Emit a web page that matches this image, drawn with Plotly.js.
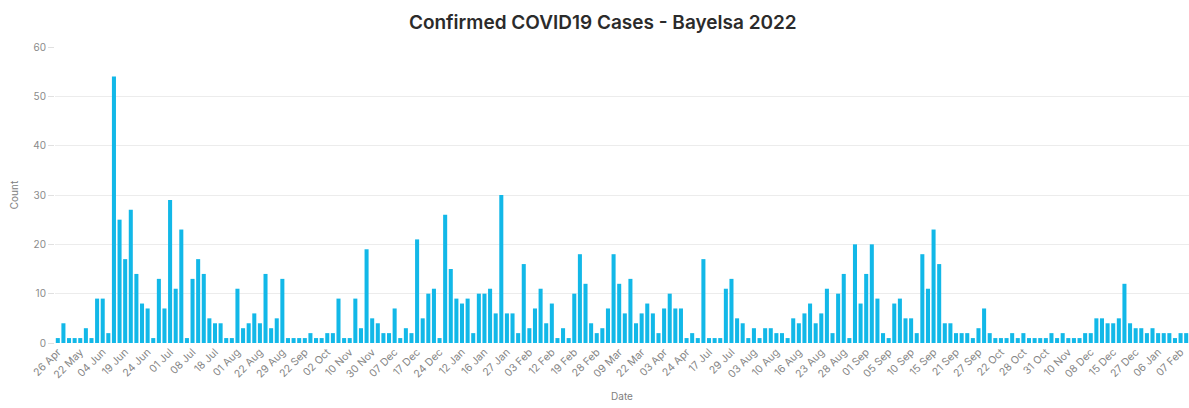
<!DOCTYPE html>
<html>
<head>
<meta charset="utf-8">
<script src="https://cdn.plot.ly/plotly-3.0.1.min.js"></script>
<style>html,body{margin:0;padding:0;background:#fff;}#chart{width:1189px;height:408px;}</style>
</head>
<body>
<div id="chart"></div>
<script>
// Daily confirmed case counts (one bar per reporting day, in order)
const counts = [
  1,4,1,1,1,3,1,9,9,2,
  54,25,17,27,14,8,7,1,13,7,
  29,11,23,1,13,17,14,5,4,4,
  1,1,11,3,4,6,4,14,3,5,
  13,1,1,1,1,2,1,1,2,2,
  9,1,1,9,3,19,5,4,2,2,
  7,1,3,2,21,5,10,11,1,26,
  15,9,8,9,2,10,10,11,6,30,
  6,6,2,16,3,7,11,4,8,1,
  3,1,10,18,12,4,2,3,7,18,
  12,6,13,4,6,8,6,2,7,10,
  7,7,1,2,1,17,1,1,1,11,
  13,5,4,1,3,1,3,3,2,2,
  1,5,4,6,8,4,6,11,2,10,
  14,1,20,8,14,20,9,2,1,8,
  9,5,5,2,18,11,23,16,4,4,
  2,2,2,1,3,7,2,1,1,1,
  2,1,2,1,1,1,1,2,1,2,
  1,1,1,2,2,5,5,4,4,5,
  12,4,3,3,2,3,2,2,2,1,
  2,2
];
// Date labels shown on the axis (every 4th bar)
const tickLabels = [
  "26 Apr","22 May","04 Jun","19 Jun","24 Jun","01 Jul","08 Jul","18 Jul","01 Aug","22 Aug",
  "29 Aug","22 Sep","02 Oct","10 Nov","30 Nov","07 Dec","17 Dec","24 Dec","12 Jan","16 Jan",
  "27 Jan","03 Feb","12 Feb","19 Feb","28 Feb","09 Mar","22 Mar","03 Apr","24 Apr","17 Jul",
  "29 Jul","03 Aug","10 Aug","16 Aug","23 Aug","28 Aug","01 Sep","05 Sep","10 Sep","15 Sep",
  "21 Sep","27 Sep","22 Oct","28 Oct","31 Oct","10 Nov","08 Dec","15 Dec","27 Dec","06 Jan",
  "07 Feb"
];
const labelEvery = 4;

const xs = counts.map((_, i) => i);
const tickVals = tickLabels.map((_, i) => i * labelEvery);

const trace = {
  type: 'bar',
  x: xs,
  y: counts,
  marker: {color: '#12b8e8'},
  hoverinfo: 'y'
};

const layout = {
  width: 1189,
  height: 408,
  margin: {l: 55, r: 0, t: 47, b: 65},
  paper_bgcolor: '#ffffff',
  plot_bgcolor: '#ffffff',
  bargap: 0.28,
  showlegend: false,
  font: {family: 'Inter, "Open Sans", sans-serif', color: '#808080'},
  title: {
    text: 'Confirmed COVID19 Cases - Bayelsa 2022',
    x: 0.507, xanchor: 'center',
    y: 0.945, yanchor: 'middle',
    font: {family: 'Inter, "Noto Sans", sans-serif', size: 19, color: '#2b2b2b', weight: 600}
  },
  xaxis: {
    type: 'linear',
    range: [-0.5, counts.length - 0.5],
    tickmode: 'array',
    tickvals: tickVals,
    ticktext: tickLabels,
    tickangle: -45,
    tickfont: {size: 10.5, color: '#858585'},
    showgrid: false,
    zeroline: false,
    showline: false,
    ticks: '',
    title: {text: 'Date', font: {size: 10, color: '#808080'}, standoff: 12}
  },
  yaxis: {
    range: [0, 60],
    tickvals: [0, 10, 20, 30, 40, 50, 60],
    tickfont: {size: 10, color: '#8a8a8a'},
    gridcolor: '#ececec',
    gridwidth: 1,
    zeroline: false,
    showline: false,
    ticks: 'outside',
    ticklen: 6,
    tickcolor: '#e0e0e0',
    title: {text: 'Count', font: {size: 10, color: '#808080'}, standoff: 12}
  }
};

Plotly.newPlot('chart', [trace], layout, {displayModeBar: false, staticPlot: true});
</script>
</body>
</html>
